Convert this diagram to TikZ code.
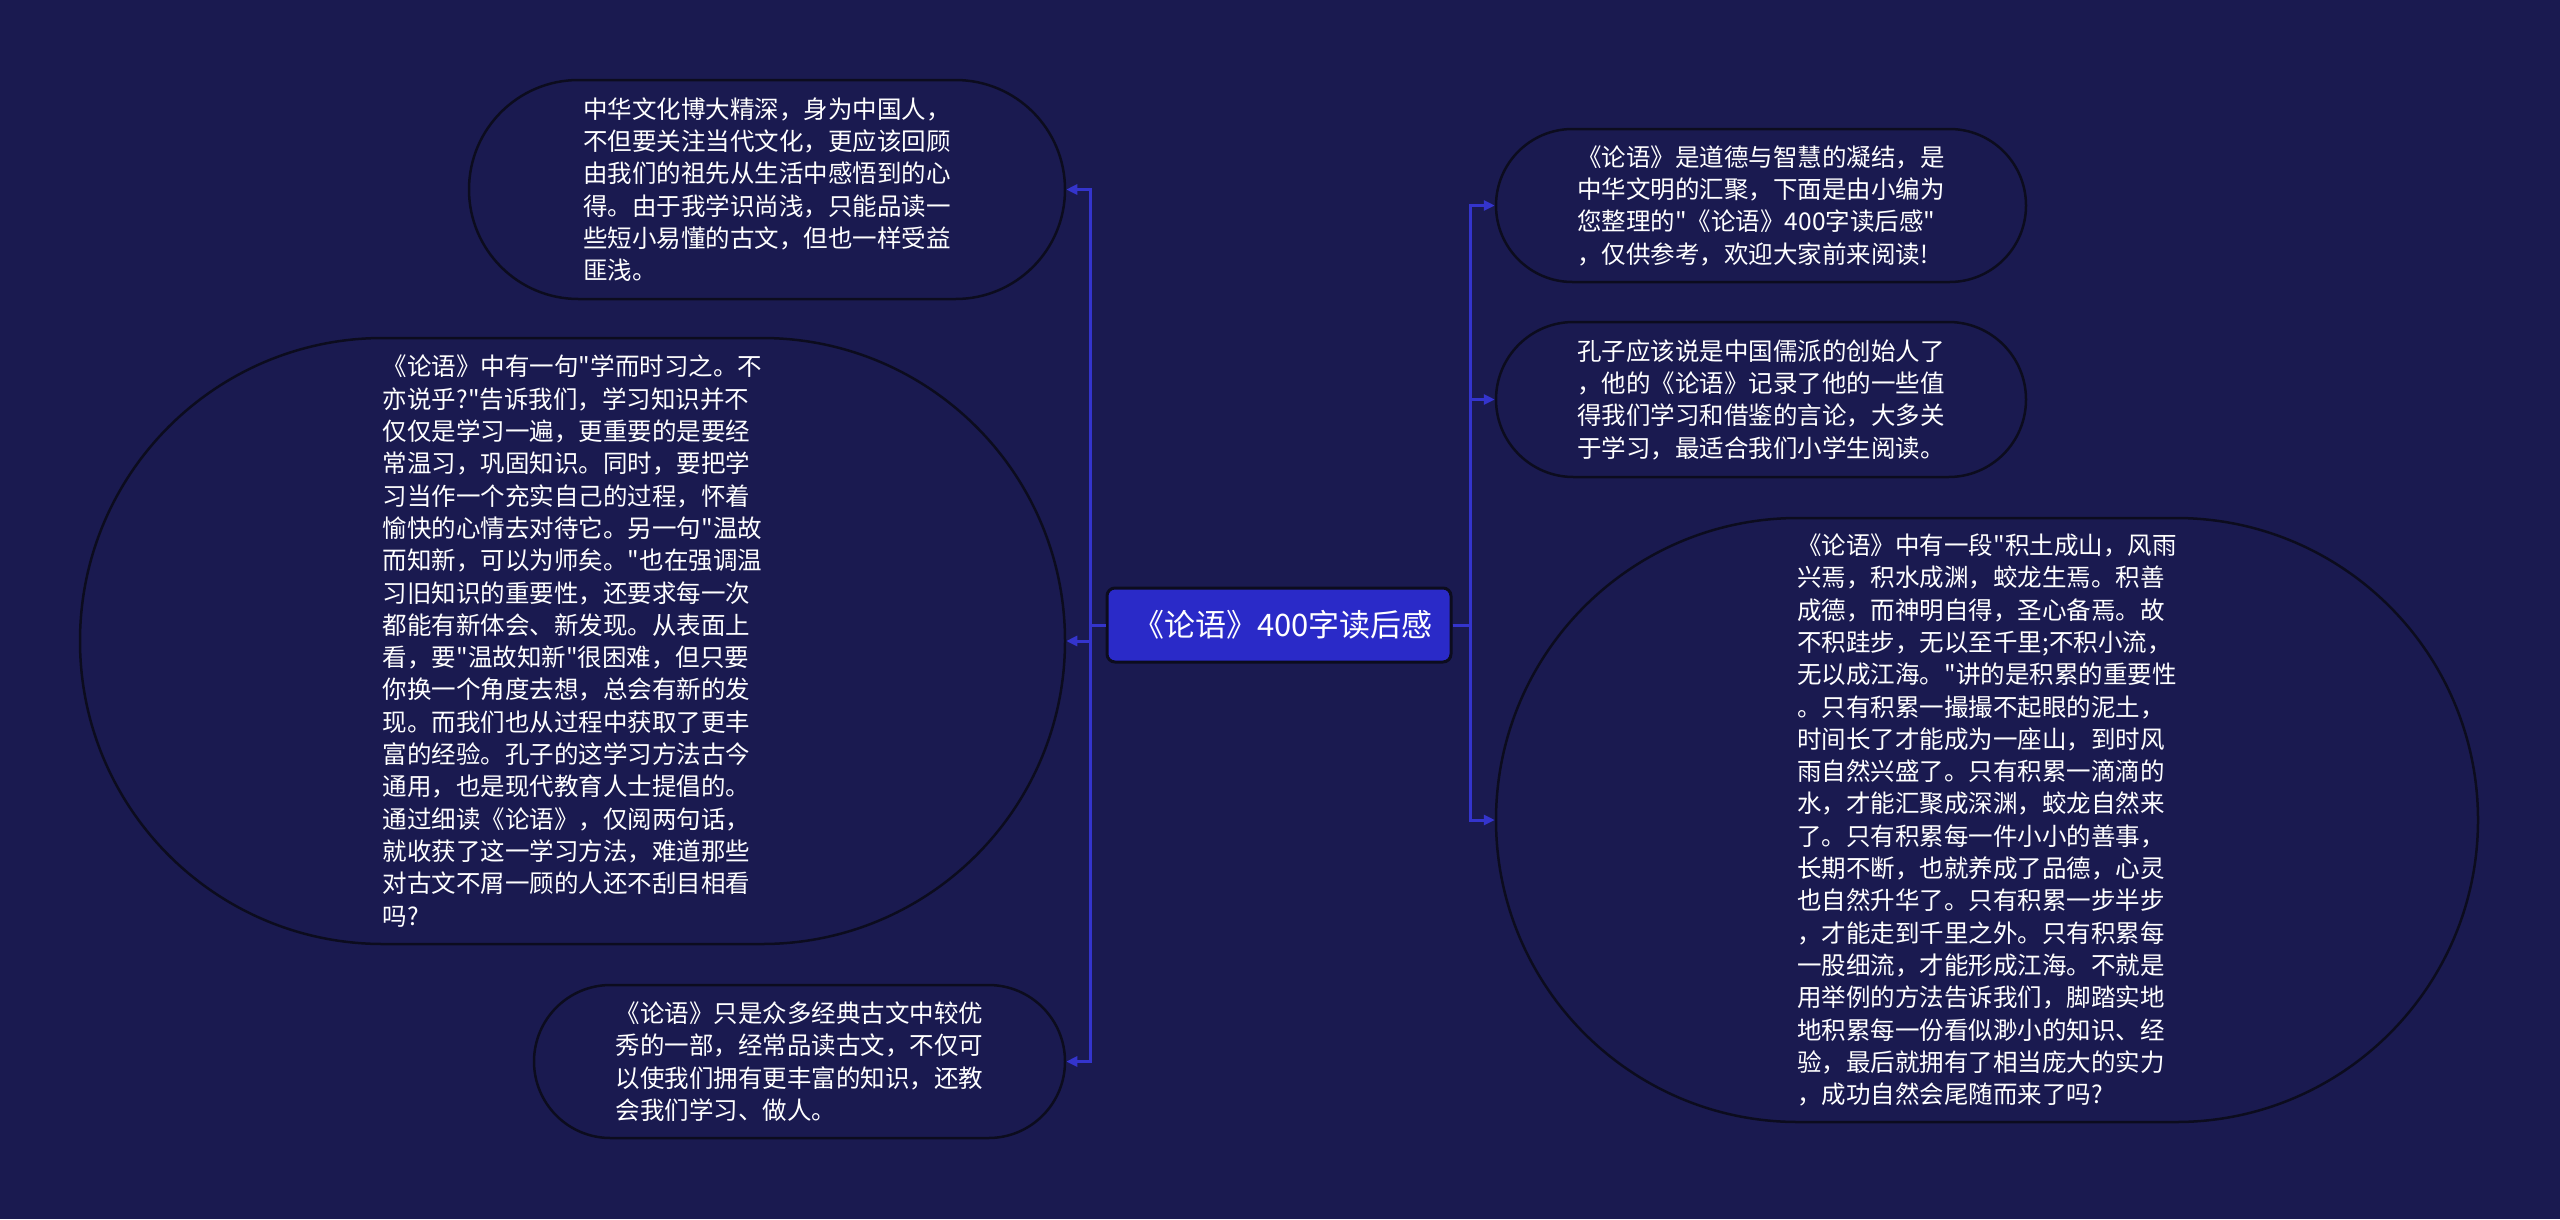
\documentclass[tikz,border=0pt]{standalone}
\usepackage{fontspec}
\newfontfamily\cjk{Noto Sans CJK SC}
\usetikzlibrary{shapes.misc,arrows.meta}
\definecolor{bg}{HTML}{1A1A50}
\definecolor{rootfill}{HTML}{2A2AC8}
\definecolor{conncol}{HTML}{3434CC}
\definecolor{edgecol}{HTML}{0C0C1E}
\begin{document}
\begin{tikzpicture}[x=1pt,y=-1pt,
  bubble/.style={rounded rectangle, draw=edgecol, line width=2.5pt, inner sep=0pt,
    align=left, text=white, font=\cjk\fontsize{24.5}{32.3}\selectfont},
  rootnode/.style={rectangle, rounded corners=8pt, fill=rootfill, draw=edgecol,
    line width=3pt, text=white, font=\cjk\fontsize{31}{37}\selectfont,
    minimum width=344, minimum height=74, inner sep=0pt},
  conn/.style={draw=conncol, line width=3pt, -{Triangle[length=11pt,width=10pt]}}]
\fill[bg] (0,0) rectangle (2560,1219);
\useasboundingbox (0,0) rectangle (2560,1219);

\node[rootnode] (root) at (1279,625) {\hspace{8pt}《论语》400字读后感};

\node[bubble, minimum width=596, minimum height=219] (tl) at (767,189.5) {中华文化博大精深，身为中国人，\\不但要关注当代文化，更应该回顾\\由我们的祖先从生活中感悟到的心\\得。由于我学识尚浅，只能品读一\\些短小易懂的古文，但也一样受益\\匪浅。};

\node[bubble, minimum width=985, minimum height=606] (bl) at (572.5,641) {《论语》中有一句"学而时习之。不\\亦说乎?"告诉我们，学习知识并不\\仅仅是学习一遍，更重要的是要经\\常温习，巩固知识。同时，要把学\\习当作一个充实自己的过程，怀着\\愉快的心情去对待它。另一句"温故\\而知新，可以为师矣。"也在强调温\\习旧知识的重要性，还要求每一次\\都能有新体会、新发现。从表面上\\看，要"温故知新"很困难，但只要\\你换一个角度去想，总会有新的发\\现。而我们也从过程中获取了更丰\\富的经验。孔子的这学习方法古今\\通用，也是现代教育人士提倡的。\\通过细读《论语》，仅阅两句话，\\就收获了这一学习方法，难道那些\\对古文不屑一顾的人还不刮目相看\\吗?};

\node[bubble, minimum width=531, minimum height=153] (bot) at (799.5,1061.5) {《论语》只是众多经典古文中较优\\秀的一部，经常品读古文，不仅可\\以使我们拥有更丰富的知识，还教\\会我们学习、做人。};

\node[bubble, minimum width=530, minimum height=153] (r1) at (1761,205.5) {《论语》是道德与智慧的凝结，是\\中华文明的汇聚，下面是由小编为\\您整理的"《论语》400字读后感"\\，仅供参考，欢迎大家前来阅读!};

\node[bubble, minimum width=530, minimum height=155] (r2) at (1761,399.5) {孔子应该说是中国儒派的创始人了\\，他的《论语》记录了他的一些值\\得我们学习和借鉴的言论，大多关\\于学习，最适合我们小学生阅读。};

\node[bubble, minimum width=982, minimum height=604] (r3) at (1987,820) {《论语》中有一段"积土成山，风雨\\兴焉，积水成渊，蛟龙生焉。积善\\成德，而神明自得，圣心备焉。故\\不积跬步，无以至千里;不积小流，\\无以成江海。"讲的是积累的重要性\\。只有积累一撮撮不起眼的泥土，\\时间长了才能成为一座山，到时风\\雨自然兴盛了。只有积累一滴滴的\\水，才能汇聚成深渊，蛟龙自然来\\了。只有积累每一件小小的善事，\\长期不断，也就养成了品德，心灵\\也自然升华了。只有积累一步半步\\，才能走到千里之外。只有积累每\\一股细流，才能形成江海。不就是\\用举例的方法告诉我们，脚踏实地\\地积累每一份看似渺小的知识、经\\验，最后就拥有了相当庞大的实力\\，成功自然会尾随而来了吗?};

\coordinate (sl) at (1090,625);
\coordinate (sr) at (1470,625);

\draw[conn] (root.west) -- (sl) |- (tl.east);
\draw[conn] (root.west) -- (sl) |- (bl.east);
\draw[conn] (root.west) -- (sl) |- (bot.east);
\draw[conn] (root.east) -- (sr) |- (r1.west);
\draw[conn] (root.east) -- (sr) |- (r2.west);
\draw[conn] (root.east) -- (sr) |- (r3.west);
\end{tikzpicture}
\end{document}
